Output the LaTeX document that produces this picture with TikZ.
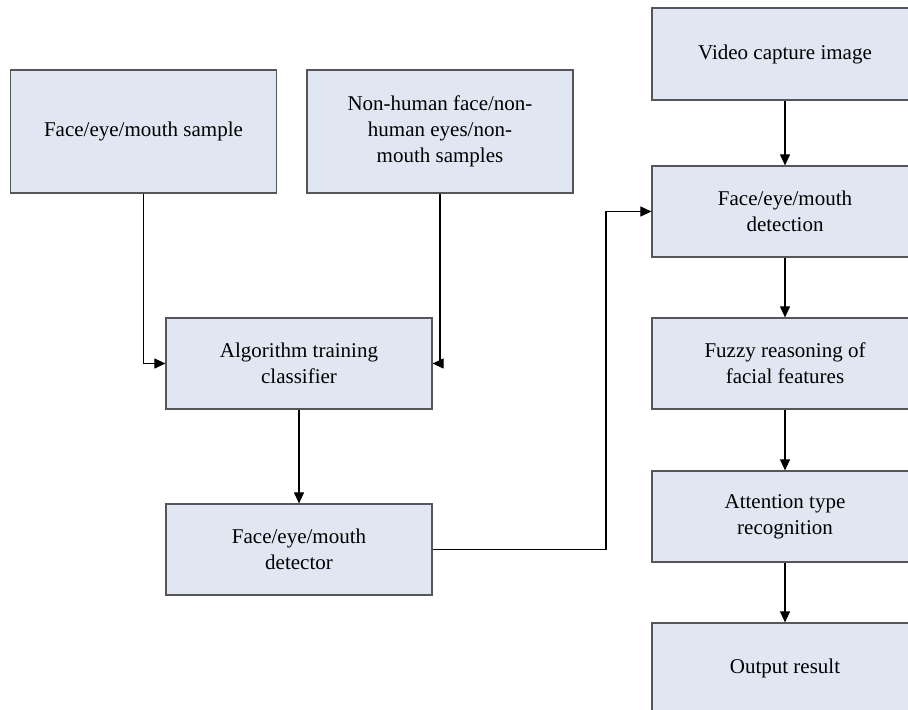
\documentclass[tikz,border=0pt]{standalone}
\usepackage{fontspec}
\setmainfont{Liberation Serif}
\usepackage{tikz}
\usetikzlibrary{arrows.meta}
\definecolor{boxblue}{RGB}{224,231,243}
\definecolor{boxline}{RGB}{85,85,90}

\begin{document}
\begin{tikzpicture}[x=0.5pt, y=-0.5pt, % one unit is one pixel of the original
    stage/.style={draw=boxline, line width=0.6pt, fill=boxblue, minimum width=133pt,
                  align=center, font=\fontsize{10.5}{13}\selectfont, inner sep=0pt},
    flow/.style={line width=0.55pt, -{Triangle[length=5.5pt, width=5pt]}}]
    \useasboundingbox (0,0) rectangle (908,710);

    % Training side
    \node[stage, minimum height=61.5pt] (sample) at (143.5,131.5) {Face/eye/mouth sample};
    \node[stage, minimum height=61.5pt] (negative) at (440,131.5) {Non-human face/non-\\human eyes/non-\\mouth samples};
    \node[stage, minimum height=45.5pt] (classifier) at (299,363.5) {Algorithm training\\classifier};
    \node[stage, minimum height=45.5pt] (detector) at (299,549.5) {Face/eye/mouth\\detector};

    % Recognition side
    \node[stage, minimum height=46pt] (capture) at (785,54) {Video capture image};
    \node[stage, minimum height=45.5pt] (detection) at (785,211.5) {Face/eye/mouth\\detection};
    \node[stage, minimum height=45.5pt] (fuzzy) at (785,363.5) {Fuzzy reasoning of\\facial features};
    \node[stage, minimum height=45.5pt] (attention) at (785,516.5) {Attention type\\recognition};
    \node[stage, minimum height=45.5pt] (output) at (785,668.5) {Output result};

    % Connectors
    \draw[flow] (sample.south) |- (classifier.west);
    \draw[flow] (negative.south) |- (classifier.east);
    \draw[flow] (classifier) -- (detector);
    \coordinate (bend) at (606,549.5);
    \draw[flow] (detector.east) -- (bend) |- (detection.west);
    \draw[flow] (capture) -- (detection);
    \draw[flow] (detection) -- (fuzzy);
    \draw[flow] (fuzzy) -- (attention);
    \draw[flow] (attention) -- (output);
\end{tikzpicture}
\end{document}
